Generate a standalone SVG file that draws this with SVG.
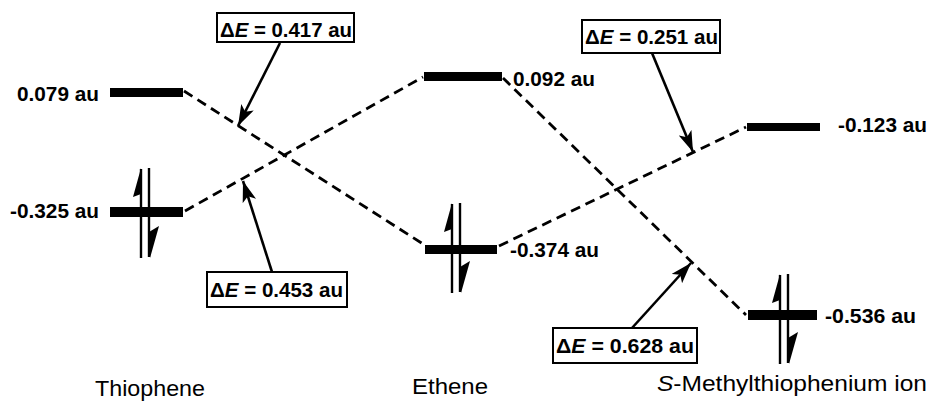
<svg xmlns="http://www.w3.org/2000/svg" xmlns:xlink="http://www.w3.org/1999/xlink" width="928" height="403" viewBox="0 0 928 403">
<style>
  .bar { fill: #000; }
  .val { font-family: "Liberation Sans", Arial, sans-serif; font-size: 19.5px; font-weight: bold; fill: #000; }
  .lbl { font-family: "Liberation Sans", Arial, sans-serif; font-size: 22px; fill: #000; }
  .box { fill: #fff; stroke: #000; stroke-width: 2; }
  .dash { fill: none; stroke: #000; stroke-width: 2.8; stroke-dasharray: 10 6; }
  .call { fill: none; stroke: #000; stroke-width: 2.6; }
  .spin { stroke: #000; stroke-width: 2.4; fill: none; }
</style>
<defs>
  <marker id="ah" markerUnits="userSpaceOnUse" markerWidth="24" markerHeight="14" refX="21" refY="7" orient="auto">
    <path d="M0,0 L21,7 L0,14 L5,7 z" fill="#000"/>
  </marker>
  <g id="pair">
    <line class="spin" x1="0" y1="1" x2="0" y2="90"/>
    <polygon points="0,0 -8,29 0,26" fill="#000"/>
    <line class="spin" x1="8" y1="0" x2="8" y2="89"/>
    <polygon points="8,64 18,58 9,90" fill="#000"/>
  </g>
</defs>
<rect width="928" height="403" fill="#fff"/>

<g id="connectors">
  <line class="dash" x1="184" y1="91" x2="423" y2="244"/>
  <line class="dash" x1="185" y1="211" x2="423" y2="77"/>
  <line class="dash" x1="503" y1="78" x2="746" y2="315"/>
  <line class="dash" x1="499" y1="246" x2="746" y2="127"/>
  <line class="call" x1="280" y1="43" x2="238" y2="126" marker-end="url(#ah)"/>
  <line class="call" x1="272" y1="272" x2="243" y2="181" marker-end="url(#ah)"/>
  <line class="call" x1="652" y1="53" x2="693" y2="152" marker-end="url(#ah)"/>
  <line class="call" x1="632" y1="328" x2="691" y2="263" marker-end="url(#ah)"/>
</g>

<g id="thiophene-lumo">
  <rect class="bar" x="110" y="88" width="73" height="9"/>
  <text class="val" x="99" y="101" text-anchor="end" textLength="82" lengthAdjust="spacingAndGlyphs">0.079 au</text>
</g>
<g id="thiophene-homo">
  <rect class="bar" x="110" y="207" width="73" height="10"/>
  <use xlink:href="#pair" href="#pair" transform="translate(141,168)"/>
  <text class="val" x="99" y="218" text-anchor="end" textLength="89" lengthAdjust="spacingAndGlyphs">-0.325 au</text>
</g>
<g id="ethene-lumo">
  <rect class="bar" x="424" y="72" width="78" height="9"/>
  <text class="val" x="513" y="86" textLength="82" lengthAdjust="spacingAndGlyphs">0.092 au</text>
</g>
<g id="ethene-homo">
  <rect class="bar" x="425" y="245" width="72" height="9"/>
  <use xlink:href="#pair" href="#pair" transform="translate(452,203)"/>
  <text class="val" x="510" y="257" textLength="89" lengthAdjust="spacingAndGlyphs">-0.374 au</text>
</g>
<g id="smt-lumo">
  <rect class="bar" x="747" y="123" width="73" height="8"/>
  <text class="val" x="838" y="132" textLength="89" lengthAdjust="spacingAndGlyphs">-0.123 au</text>
</g>
<g id="smt-homo">
  <rect class="bar" x="748" y="310" width="69" height="10"/>
  <use xlink:href="#pair" href="#pair" transform="translate(780,274)"/>
  <text class="val" x="825" y="323" textLength="91" lengthAdjust="spacingAndGlyphs">-0.536 au</text>
</g>

<g id="de-0417">
  <rect class="box" x="217" y="13" width="137" height="29"/>
  <text class="val" x="220" y="37" textLength="132" lengthAdjust="spacingAndGlyphs">Δ<tspan font-style="italic">E</tspan> = 0.417 au</text>
</g>
<g id="de-0453">
  <rect class="box" x="207" y="272" width="140" height="35"/>
  <text class="val" x="210" y="297" textLength="133" lengthAdjust="spacingAndGlyphs">Δ<tspan font-style="italic">E</tspan> = 0.453 au</text>
</g>
<g id="de-0251">
  <rect class="box" x="582" y="20" width="138" height="33"/>
  <text class="val" x="585" y="44" textLength="133" lengthAdjust="spacingAndGlyphs">Δ<tspan font-style="italic">E</tspan> = 0.251 au</text>
</g>
<g id="de-0628">
  <rect class="box" x="553" y="328" width="144" height="35"/>
  <text class="val" x="556" y="353" textLength="138" lengthAdjust="spacingAndGlyphs">Δ<tspan font-style="italic">E</tspan> = 0.628 au</text>
</g>

<g id="labels">
  <text class="lbl" x="95" y="396" textLength="110" lengthAdjust="spacingAndGlyphs">Thiophene</text>
  <text class="lbl" x="412" y="394" textLength="76" lengthAdjust="spacingAndGlyphs">Ethene</text>
  <text class="lbl" x="657" y="391" textLength="270" lengthAdjust="spacingAndGlyphs"><tspan font-style="italic">S</tspan>-Methylthiophenium ion</text>
</g>
</svg>
